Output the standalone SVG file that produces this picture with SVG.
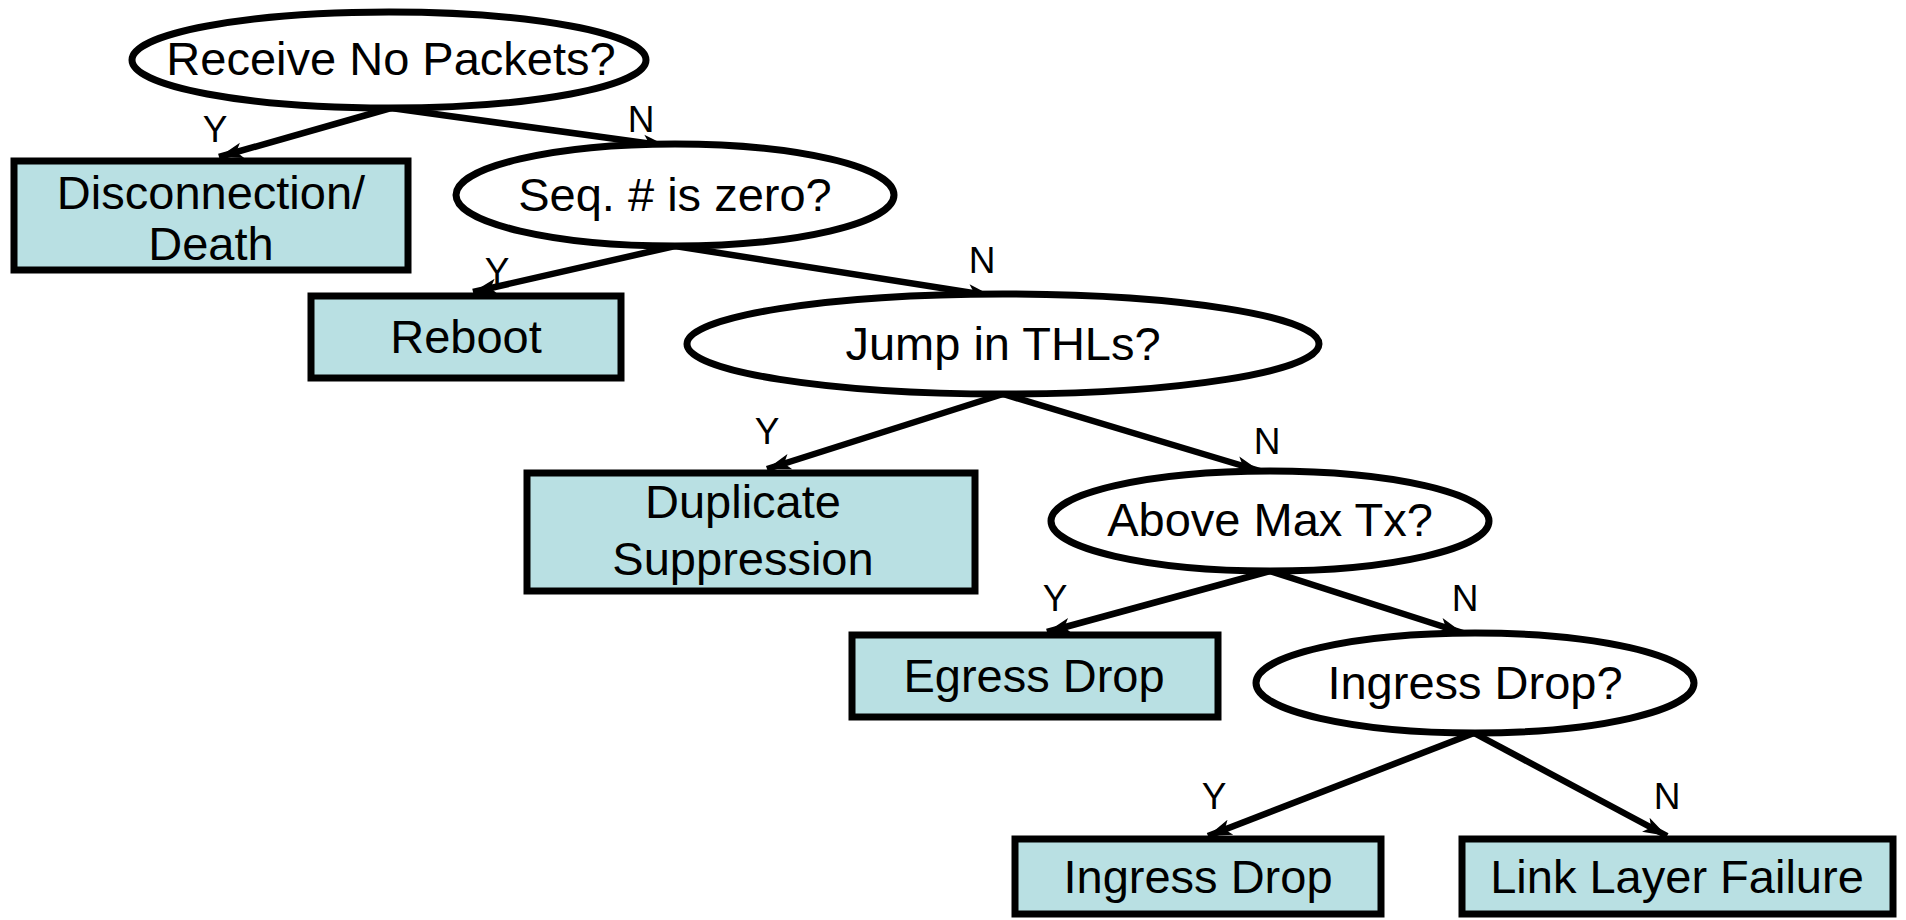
<svg xmlns="http://www.w3.org/2000/svg" width="1906" height="920" viewBox="0 0 1906 920">
<defs>
<style>
.q{fill:#ffffff;stroke:#000;stroke-width:7}
.b{fill:#b9e0e3;stroke:#000;stroke-width:7}
.t{font-family:"Liberation Sans",Arial,sans-serif;font-size:47px;fill:#000;text-anchor:middle}
.l{font-family:"Liberation Sans",Arial,sans-serif;font-size:37px;fill:#000;text-anchor:middle}
.c{stroke:#000;stroke-width:6.5;fill:none;marker-end:url(#ah)}
</style>
<marker id="ah" markerUnits="userSpaceOnUse" markerWidth="26" markerHeight="20" refX="24" refY="10" orient="auto">
<path d="M0,2 L24,10 L0,18 L6,10 Z" fill="#000"/>
</marker>
</defs>
<rect width="1906" height="920" fill="#fff"/>
<g id="connectors">
<line class="c" x1="391" y1="108" x2="219" y2="157"/>
<line class="c" x1="391" y1="108" x2="667" y2="146"/>
<line class="c" x1="675" y1="246" x2="473" y2="292"/>
<line class="c" x1="675" y1="246" x2="992" y2="296"/>
<line class="c" x1="1003" y1="394" x2="767" y2="469"/>
<line class="c" x1="1003" y1="394" x2="1260" y2="471"/>
<line class="c" x1="1270" y1="571" x2="1047" y2="632"/>
<line class="c" x1="1270" y1="571" x2="1463" y2="633"/>
<line class="c" x1="1474" y1="733" x2="1208" y2="836"/>
<line class="c" x1="1474" y1="733" x2="1667" y2="836"/>
<text class="l" x="215" y="142">Y</text>
<text class="l" x="641" y="132">N</text>
<text class="l" x="497" y="284">Y</text>
<text class="l" x="982" y="273">N</text>
<text class="l" x="767" y="444">Y</text>
<text class="l" x="1267" y="454">N</text>
<text class="l" x="1055" y="611">Y</text>
<text class="l" x="1465" y="611">N</text>
<text class="l" x="1214" y="809">Y</text>
<text class="l" x="1667" y="809">N</text>
</g>
<g id="q1"><ellipse class="q" cx="389" cy="60" rx="257" ry="48"/><text class="t" x="391" y="75">Receive No Packets?</text></g>
<g id="r1"><rect class="b" x="14" y="161" width="394" height="109"/><text class="t" x="211" y="209">Disconnection/</text><text class="t" x="211" y="260">Death</text></g>
<g id="q2"><ellipse class="q" cx="675" cy="195" rx="219" ry="51"/><text class="t" x="675" y="211">Seq. # is zero?</text></g>
<g id="r2"><rect class="b" x="311" y="296" width="310" height="82"/><text class="t" x="466" y="353">Reboot</text></g>
<g id="q3"><ellipse class="q" cx="1003" cy="344" rx="316" ry="50"/><text class="t" x="1003" y="360">Jump in THLs?</text></g>
<g id="r3"><rect class="b" x="527" y="473" width="448" height="118"/><text class="t" x="743" y="518">Duplicate</text><text class="t" x="743" y="575">Suppression</text></g>
<g id="q4"><ellipse class="q" cx="1270" cy="521" rx="219" ry="50"/><text class="t" x="1270" y="536">Above Max Tx?</text></g>
<g id="r4"><rect class="b" x="852" y="635" width="366" height="82"/><text class="t" x="1034" y="692">Egress Drop</text></g>
<g id="q5"><ellipse class="q" cx="1475" cy="683" rx="219" ry="50"/><text class="t" x="1475" y="699">Ingress Drop?</text></g>
<g id="r5"><rect class="b" x="1015" y="839" width="366" height="75"/><text class="t" x="1198" y="893">Ingress Drop</text></g>
<g id="r6"><rect class="b" x="1462" y="839" width="431" height="75"/><text class="t" x="1677" y="893">Link Layer Failure</text></g>
</svg>
